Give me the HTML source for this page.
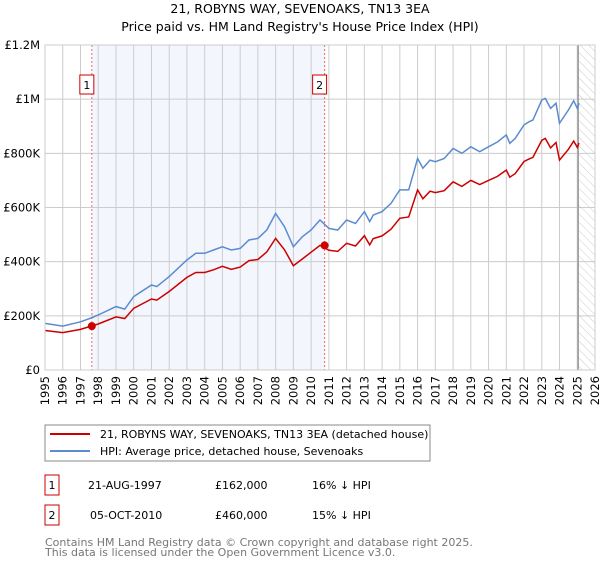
<!DOCTYPE html>
<html><head><meta charset="utf-8"><style>
body{margin:0;background:#fff;font-family:"DejaVu Sans","Liberation Sans",sans-serif;}
svg text{font-family:"DejaVu Sans","Liberation Sans",sans-serif;}
</style></head><body>
<svg width="600" height="560" xmlns="http://www.w3.org/2000/svg">
<defs><pattern id="hatch" width="6" height="6" patternUnits="userSpaceOnUse" patternTransform="rotate(-45)"><line x1="0" y1="0" x2="0" y2="6" stroke="#ccc" stroke-width="1"/></pattern></defs>
<text x="300" y="13" text-anchor="middle" font-size="12.5">21, ROBYNS WAY, SEVENOAKS, TN13 3EA</text>
<text x="300" y="31" text-anchor="middle" font-size="12.5">Price paid vs. HM Land Registry's House Price Index (HPI)</text>
<g id="plot"></g>
<g>
<rect x="45" y="425" width="385" height="36" fill="#fff" stroke="#888"/>
<line x1="50" y1="434" x2="90" y2="434" stroke="#c00" stroke-width="2"/>
<text x="100" y="438" font-size="11">21, ROBYNS WAY, SEVENOAKS, TN13 3EA (detached house)</text>
<line x1="50" y1="451" x2="90" y2="451" stroke="#5b8bd0" stroke-width="2"/>
<text x="100" y="455" font-size="11">HPI: Average price, detached house, Sevenoaks</text>
</g>
<g font-size="11">
<rect x="45" y="475" width="14" height="20" fill="none" stroke="#c00"/><text x="52" y="489" text-anchor="middle">1</text>
<text x="88" y="489">21-AUG-1997</text><text x="215" y="489">£162,000</text><text x="312" y="489">16% ↓ HPI</text>
<rect x="45" y="505" width="14" height="20" fill="none" stroke="#c00"/><text x="52" y="519" text-anchor="middle">2</text>
<text x="90" y="519">05-OCT-2010</text><text x="215" y="519">£460,000</text><text x="312" y="519">15% ↓ HPI</text>
</g>
<text x="45" y="546" font-size="11" fill="#777">Contains HM Land Registry data © Crown copyright and database right 2025.</text>
<text x="45" y="556" font-size="11" fill="#777">This data is licensed under the Open Government Licence v3.0.</text>
</svg>
<script>
const hpiYears=[1995.0,1996.0,1997.0,1997.6,1998.0,1999.0,1999.5,2000.0,2001.0,2001.3,2002.0,2003.0,2003.5,2004.0,2004.5,2005.0,2005.5,2006.0,2006.5,2007.0,2007.5,2008.0,2008.5,2009.0,2009.5,2010.0,2010.5,2011.0,2011.5,2012.0,2012.5,2013.0,2013.3,2013.5,2014.0,2014.5,2015.0,2015.5,2016.0,2016.3,2016.7,2017.0,2017.5,2018.0,2018.5,2019.0,2019.5,2020.0,2020.5,2021.0,2021.2,2021.5,2022.0,2022.3,2022.5,2023.0,2023.2,2023.5,2023.8,2024.0,2024.5,2024.8,2025.0,2025.1];
const hpiValues=[172,162,178,192,203,234,225,271,314,308,345,406,431,431,443,455,443,449,480,486,517,578,529,455,492,517,554,523,517,554,541,585,548,572,585,615,665,665,781,745,775,769,781,818,800,824,806,824,842,868,837,855,905,917,923,997,1003,966,985,911,960,994,966,985];
const priceValues=[146,138,150,162,170,196,190,228,262,258,290,342,360,360,370,383,372,380,404,408,436,486,444,385,410,435,460,442,438,468,458,496,462,485,495,520,560,565,665,632,660,655,662,695,678,700,685,700,715,738,712,725,770,780,785,848,855,820,840,775,815,845,822,838];
const yTicks=[0,200,400,600,800,1000,1200];
const yTickLabels=["£0","£200K","£400K","£600K","£800K","£1M","£1.2M"];
const xTicks=[1995,1996,1997,1998,1999,2000,2001,2002,2003,2004,2005,2006,2007,2008,2009,2010,2011,2012,2013,2014,2015,2016,2017,2018,2019,2020,2021,2022,2023,2024,2025,2026];
const saleYears=[1997.64,2010.76];
const saleValues=[162,460];
const saleLabels=["1","2"];
const L=45,R=595,T=45,B=370;
const xs=v=>L+(v-1995)/(2026-1995)*(R-L);
const ys=v=>B-v/1200*(B-T);
const NS="http://www.w3.org/2000/svg";
const g=document.getElementById('plot');
function mk(t,a){const e=document.createElementNS(NS,t);for(const k in a)e.setAttribute(k,a[k]);g.appendChild(e);return e;}
let e;
e=mk('rect',{x:xs(saleYears[0]),y:T,width:xs(saleYears[1])-xs(saleYears[0]),height:B-T,fill:'#eef2fc',opacity:0.7});


e=mk('rect',{x:xs(2025.05),y:T,width:R-xs(2025.05),height:B-T,fill:'url(#hatch)'});


xTicks.forEach(v=>{const l=mk('line',{x1:xs(v),x2:xs(v),y1:T,y2:B,stroke:'#ccc'});


const t=mk('text',{x:0,y:0,'font-size':11.5,'text-anchor':'end',transform:`translate(${xs(v)+4},${B+6}) rotate(-90)`});t.textContent=v;

});
yTicks.forEach((v,i)=>{const l=mk('line',{x1:L,x2:R,y1:ys(v),y2:ys(v),stroke:'#ccc'});


const t=mk('text',{x:L-5,y:ys(v)+4,'font-size':11.5,'text-anchor':'end'});t.textContent=yTickLabels[i];

});
e=mk('line',{x1:xs(2025.05),x2:xs(2025.05),y1:T,y2:B,stroke:'#999','stroke-width':1.5});


saleYears.forEach((v,i)=>{const l=mk('line',{x1:xs(v),x2:xs(v),y1:T,y2:B,stroke:'#e66','stroke-dasharray':'2,2'});


const r=mk('rect',{x:xs(v)-12,y:75,width:14,height:19,fill:'#fff',stroke:'#c00'});


const t=mk('text',{x:xs(v)-5,y:89,'font-size':11,'text-anchor':'middle'});t.textContent=saleLabels[i];

});
function line(vals,col,name){const d=hpiYears.map((y,i)=>(i?'L':'M')+xs(y).toFixed(1)+','+ys(vals[i]).toFixed(1)).join('');
const p=mk('path',{d:d,fill:'none',stroke:col,'stroke-width':1.5});

}
line(hpiValues,'#5b8bd0','hpi-line');
line(priceValues,'#c00','price-line');
saleYears.forEach((v,i)=>{const c=mk('circle',{cx:xs(v),cy:ys(saleValues[i]),r:4,fill:'#c00'});

});
mk('rect',{x:L,y:T,width:R-L,height:B-T,fill:'none',stroke:'#ccc'});
</script>
</body></html>
